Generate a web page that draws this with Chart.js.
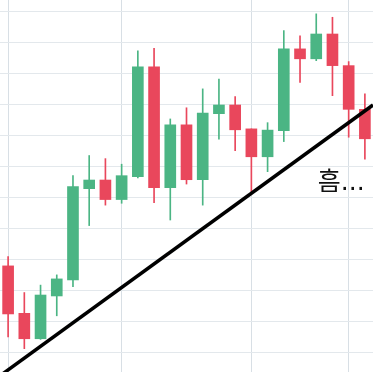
<!DOCTYPE html>
<html>
<head>
<meta charset="utf-8">
<script src="https://cdn.jsdelivr.net/npm/chart.js@4"></script>
<style>
  html, body { margin: 0; padding: 0; background: #ffffff; }
  #wrap { width: 373px; height: 372px; position: relative; }
</style>
</head>
<body>
<div id="wrap"><canvas id="c"></canvas></div>
<script>
// ---- data (price units; one grid step = 10) ----
const categories = ['1','2','3','4','5','6','7','8','9','10','11','12','13','14','15','16','17','18','19','20','21','22','23'];
const openValues  = [28.1, 12.8,  4.6, 18.4, 23.6, 53.0, 55.8, 49.5, 56.9, 92.3, 53.3, 73.6, 55.9, 77.2, 80.0, 72.3, 63.3, 71.7, 98.1, 94.9, 102.9, 92.7, 78.6];
const highValues  = [31.1, 19.5, 21.9, 25.2, 57.2, 63.7, 62.7, 60.9, 97.5, 98.3, 75.5, 79.1, 85.2, 88.4, 82.7, 72.3, 74.3, 104.0, 102.3, 109.4, 108.3, 94.0, 83.6];
const lowValues   = [ 5.2,  1.4,  4.4, 12.0, 21.4, 41.1, 47.7, 48.3, 56.5, 48.5, 42.9, 54.5, 47.7, 69.0, 65.3, 51.9, 58.5, 68.2, 87.3, 94.3, 83.0, 69.6, 62.5];
const closeValues = [12.6,  4.6, 18.7, 23.9, 53.7, 55.8, 49.5, 57.2, 92.3, 53.3, 73.6, 55.9, 77.4, 80.0, 72.0, 63.3, 71.9, 98.1, 94.9, 102.9, 92.7, 78.6, 69.1];
const yTickValues = [0, 10, 20, 30, 40, 50, 60, 70, 80, 90, 100, 110];
const xGridIndexes = [0, 7, 15, 21];
const trendLine = [{x: -0.5, y: -7.35}, {x: 22.5, y: 80.0}];
const noteText = { text: '흠...', x: 19.1, y: 52.6 };

const UP = '#4bb584', DOWN = '#e9475c';
const colors = closeValues.map((c, i) => c >= openValues[i] ? UP : DOWN);
const bodies = openValues.map((o, i) => [o, closeValues[i]]);
const wicks = lowValues.map((l, i) => [l, highValues[i]]);

const notePlugin = {
  id: 'note',
  afterDatasetsDraw(chart) {
    const ctx = chart.ctx;
    const px = chart.scales.xl.getPixelForValue(noteText.x);
    const py = chart.scales.y.getPixelForValue(noteText.y);
    ctx.save();
    ctx.fillStyle = '#111111';
    ctx.font = '25px "DejaVu Sans", "Noto Sans CJK KR", sans-serif';
    ctx.textAlign = 'left';
    ctx.textBaseline = 'alphabetic';
    ctx.fillText(noteText.text, px, py);
    ctx.restore();
  }
};

new Chart(document.getElementById('c'), {
  type: 'bar',
  data: {
    labels: categories,
    datasets: [
      { type: 'line', data: trendLine, xAxisID: 'xl', borderColor: '#000000', borderWidth: 3.5, pointRadius: 0, fill: false, order: 0 },
      { data: bodies, backgroundColor: colors, barThickness: 11, grouped: false, order: 1 },
      { data: wicks, backgroundColor: colors, barThickness: 1, grouped: false, order: 2 }
    ]
  },
  options: {
    responsive: true,
    maintainAspectRatio: false,
    animation: false,
    devicePixelRatio: 1,
    layout: { padding: 0 },
    plugins: { legend: { display: false }, tooltip: { enabled: false } },
    scales: {
      x: {
        offset: true,
        ticks: { display: false, autoSkip: false },
        border: { display: false },
        grid: {
          offset: false,
          drawTicks: false,
          color: (ctx) => xGridIndexes.includes(ctx.index) ? '#d8dfe5' : 'rgba(0,0,0,0)'
        }
      },
      xl: { type: 'linear', display: false, offset: false, grid: { offset: false }, min: -0.5, max: 22.5 },
      y: {
        min: -6.13, max: 113.87,
        afterBuildTicks: (axis) => { axis.ticks = yTickValues.map(v => ({ value: v })); },
        ticks: { display: false },
        border: { display: false },
        grid: { drawTicks: false, color: '#e3e8ec' }
      }
    }
  },
  plugins: [notePlugin]
});
</script>
</body>
</html>
